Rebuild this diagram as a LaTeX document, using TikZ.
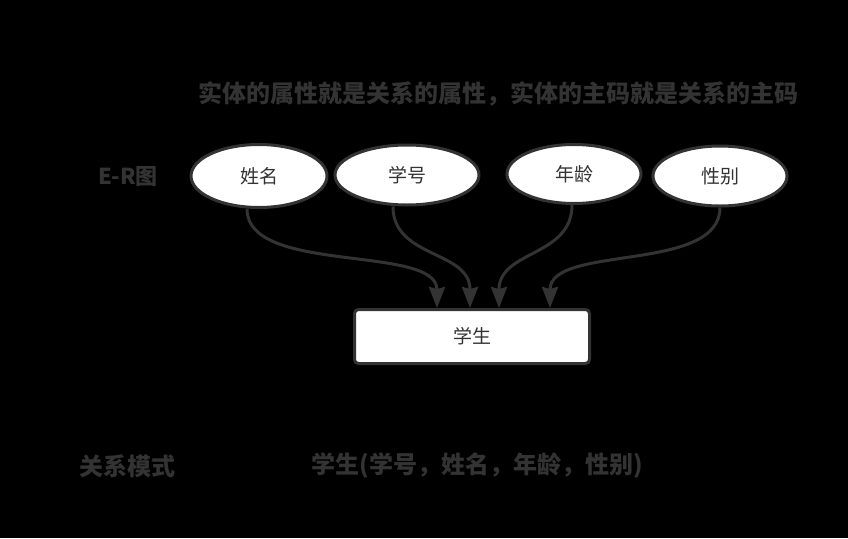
\documentclass[tikz,border=0pt]{standalone}
\usepackage{fontspec}
\newfontfamily\cjk{Noto Sans CJK SC}
\usetikzlibrary{shapes.geometric,arrows.meta}
\definecolor{ink}{HTML}{333333}
\begin{document}
\begin{tikzpicture}[x=1pt,y=-1pt,
  attr/.style={ellipse,draw=ink,line width=3pt,fill=white,inner sep=0pt,text=ink,font=\cjk\fontsize{19}{19}\selectfont},
  ent/.style={rectangle,rounded corners=4pt,draw=ink,line width=3pt,fill=white,inner sep=0pt,minimum width=235pt,minimum height=54pt,text=ink,font=\cjk\fontsize{19}{19}\selectfont},
  lbl/.style={inner sep=0pt,text=ink,font=\cjk\bfseries\fontsize{24}{24}\selectfont},
  link/.style={draw=ink,line width=3pt,-{Stealth[length=21pt,width=16pt,inset=2pt]}}]
\fill[black] (0,0) rectangle (848,538);
\node[lbl] (title) at (498,94) {实体的属性就是关系的属性，实体的主码就是关系的主码};
\node[lbl,font=\cjk\bfseries\fontsize{22}{22}\selectfont] (er) at (128,177) {E-R图};
\node[attr,minimum width=136pt,minimum height=63pt] (n1) at (259,176) {姓名};
\node[attr,minimum width=144pt,minimum height=60pt] (n2) at (407,175) {学号};
\node[attr,minimum width=134pt,minimum height=59pt] (n3) at (574,174) {年龄};
\node[attr,minimum width=134pt,minimum height=60pt] (n4) at (720,176) {性别};
\node[ent] (stu) at (472,336.5) {学生};
\draw[link] ([xshift=-12pt]n1.south) .. controls +(0,66) and ([xshift=84pt,yshift=64pt]stu.north west) .. ([xshift=84pt]stu.north west);
\draw[link] ([xshift=-14pt]n2.south) .. controls +(0,52) and ([xshift=117pt,yshift=58pt]stu.north west) .. ([xshift=117pt]stu.north west);
\draw[link] ([xshift=-2pt]n3.south) .. controls +(0,52) and ([xshift=146pt,yshift=58pt]stu.north west) .. ([xshift=146pt]stu.north west);
\draw[link] (n4.south) .. controls +(0,66) and ([xshift=197pt,yshift=64pt]stu.north west) .. ([xshift=197pt]stu.north west);
\node[lbl] (rm) at (127,466) {关系模式};
\node[lbl] (schema) at (477,466) {学生(学号，姓名，年龄，性别)};
\end{tikzpicture}
\end{document}
